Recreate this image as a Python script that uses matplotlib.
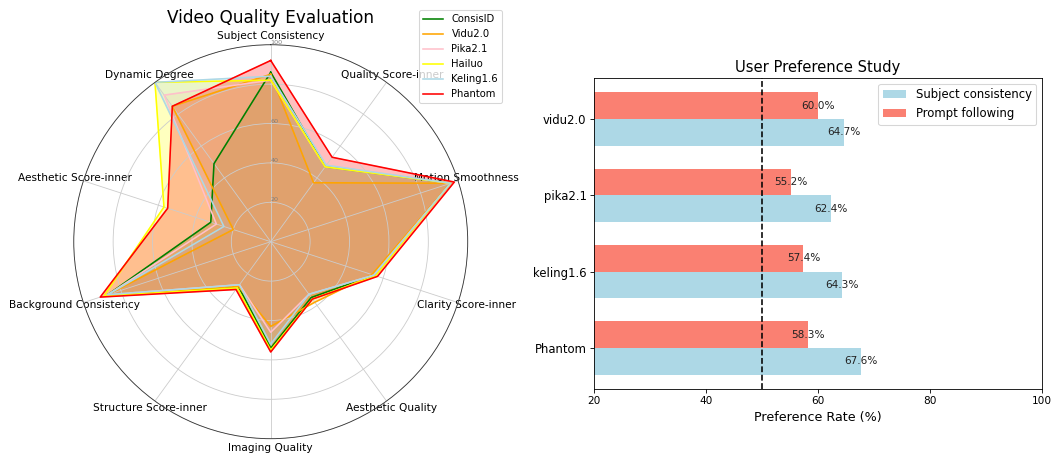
import numpy as np
import matplotlib.pyplot as plt

# radar data
categories = ['Subject Consistency', 'Quality Score-inner', 'Motion Smoothness',
              'Clarity Score-inner', 'Aesthetic Quality', 'Imaging Quality',
              'Structure Score-inner', 'Background Consistency',
              'Aesthetic Score-inner', 'Dynamic Degree']
models = ['ConsisID', 'Vidu2.0', 'Pika2.1', 'Hailuo', 'Keling1.6', 'Phantom']
colors = ['green', 'orange', 'pink', 'yellow', 'lightblue', 'red']

consisid = [86, 47, 96, 55, 35, 54, 28, 87, 32, 49]
vidu = [85, 37, 96, 54, 38, 43, 28, 87, 20, 85]
pika = [82, 47, 96, 55, 33, 46, 27, 87, 29, 92]
hailuo = [82, 47, 96, 56, 36, 55, 29, 89, 57, 100]
keling = [84, 48, 96, 55, 33, 52, 27, 87, 25, 100]
phantom = [92, 53, 98, 57, 36, 56, 30, 91, 55, 85]
scores = [consisid, vidu, pika, hailuo, keling, phantom]

# user study data
study_models = ['Phantom', 'keling1.6', 'pika2.1', 'vidu2.0']
subject_consistency = [67.6, 64.3, 62.4, 64.7]
prompt_following = [58.3, 57.4, 55.2, 60.0]

fig = plt.figure(figsize=(1052 / 76, 454 / 76), dpi=76)

# Radar chart
ax1 = fig.add_axes([0.0701, 0.0337, 0.3745, 0.8678], projection='polar')
angles = np.linspace(0, 2 * np.pi, len(categories), endpoint=False).tolist()
angles += angles[:1]
ax1.set_theta_offset(np.pi / 2)
ax1.set_theta_direction(-1)

for name, vals, c in zip(models, scores, colors):
    v = vals + vals[:1]
    ax1.plot(angles, v, color=c, linewidth=1.5, label=name)
    ax1.fill(angles, v, color=c, alpha=0.25)

ax1.set_xticks(angles[:-1])
ax1.set_xticklabels(categories, fontsize=10)
ax1.tick_params(axis='x', pad=-2)
ax1.set_ylim(0, 100)
ax1.set_yticks([20, 40, 60, 80, 100])
ax1.set_yticklabels(['20', '40', '60', '', '100'], fontsize=6, color='grey')
ax1.set_rlabel_position(0)
ax1.grid(color='#cccccc', linewidth=0.8)
ax1.spines['polar'].set_color('#333333')
ax1.spines['polar'].set_linewidth(0.8)
ax1.set_title('Video Quality Evaluation', fontsize=16, pad=7)
ax1.legend(loc='upper right', bbox_to_anchor=(1.1, 1.1), fontsize=9.5)

# Bar chart
ax2 = fig.add_axes([0.5646, 0.1432, 0.4259, 0.685])
y = np.arange(len(study_models))
h = 0.35
b1 = ax2.barh(y - h / 2, subject_consistency, h, color='lightblue', label='Subject consistency')
b2 = ax2.barh(y + h / 2, prompt_following, h, color='salmon', label='Prompt following')
for bars in (b1, b2):
    for bar in bars:
        w = bar.get_width()
        ax2.text(w, bar.get_y() + bar.get_height() / 2, f'{w:.1f}%',
                 ha='center', va='center', fontsize=10, color='#222222')
ax2.axvline(50, color='black', linestyle='--', linewidth=1.5)
ax2.set_yticks(y)
ax2.set_yticklabels(study_models, fontsize=11)
ax2.set_xlim(20, 100)
ax2.set_xticks([20, 40, 60, 80, 100])
ax2.tick_params(axis='x', labelsize=10)
ax2.set_xlabel('Preference Rate (%)', fontsize=12)
ax2.set_title('User Preference Study', fontsize=14)
ax2.legend(loc='upper right', fontsize=11)

plt.savefig('out.png', dpi=76)
